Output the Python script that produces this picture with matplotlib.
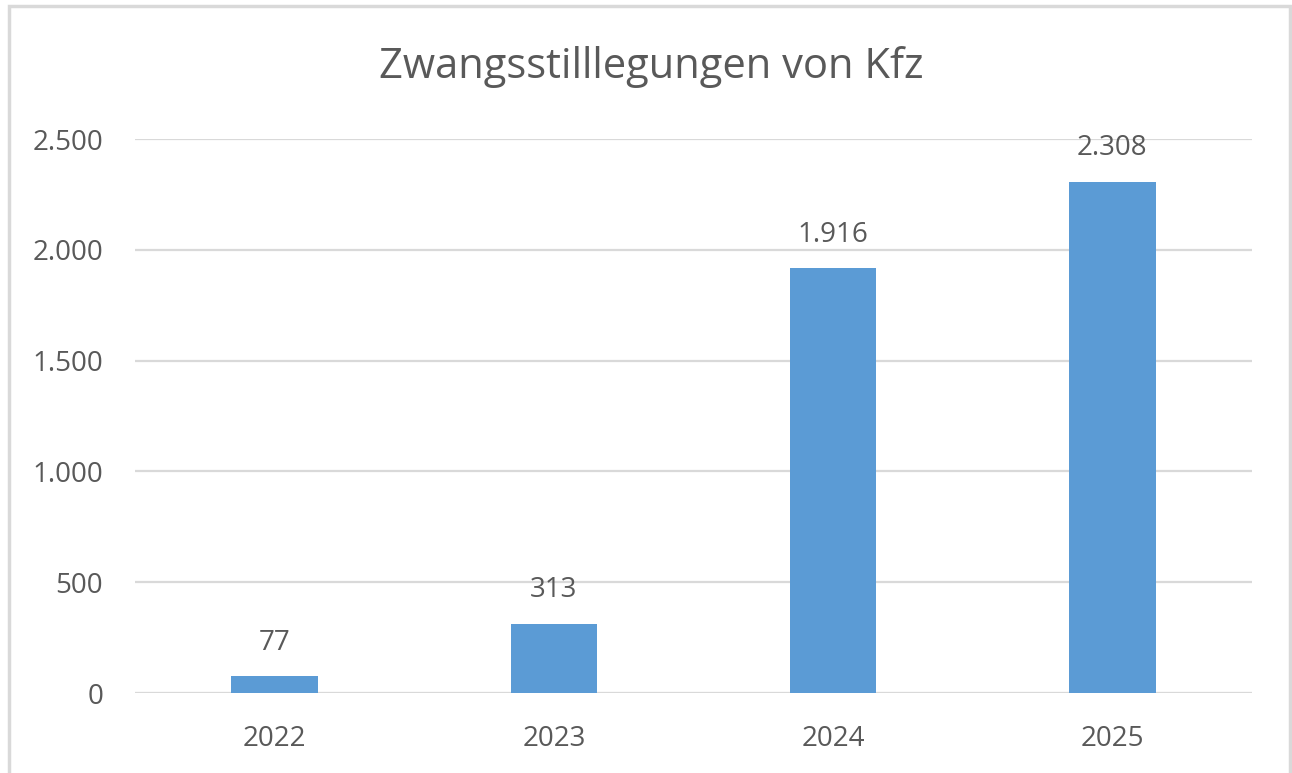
import matplotlib.pyplot as plt
from matplotlib.patches import Rectangle
from matplotlib.ticker import FuncFormatter

years = ['2022', '2023', '2024', '2025']
values = [77, 313, 1916, 2308]
y_ticks = [0, 500, 1000, 1500, 2000, 2500]

text_color = '#595959'
bar_color = '#5B9BD5'
grid_color = '#D9D9D9'

plt.rcParams['font.family'] = ['Open Sans', 'DejaVu Sans']


def de_format(v, pos=None):
    # Tausendertrennzeichen als Punkt
    return f"{int(v):,}".replace(',', '.')


fig = plt.figure(figsize=(12.92, 7.73), dpi=100)
ax = fig.add_axes([135 / 1292, 1 - 693 / 773, (1252 - 135) / 1292, (693 - 139) / 773])

x = range(len(years))
bars = ax.bar(x, values, width=0.31, color=bar_color, zorder=3)

for rect, v in zip(bars, values):
    ax.annotate(de_format(v), (rect.get_x() + rect.get_width() / 2, v),
                xytext=(0, 24), textcoords='offset points', ha='center', va='center',
                fontsize=20, color=text_color)

ax.set_xlim(-0.5, 3.5)
ax.set_ylim(0, 2500)
ax.set_xticks(list(x))
ax.set_xticklabels(years)
ax.set_yticks(y_ticks)
ax.yaxis.set_major_formatter(FuncFormatter(de_format))
ax.tick_params(axis='both', length=0, labelsize=20, labelcolor=text_color)
ax.tick_params(axis='y', pad=23)
ax.tick_params(axis='x', pad=23)
ax.grid(axis='y', color=grid_color, linewidth=1.6, zorder=0)
for s in ax.spines.values():
    s.set_visible(False)
ax.axhline(0, color=grid_color, linewidth=2.2, zorder=2)

fig.text(651 / 1292, 1 - 67 / 773, 'Zwangsstilllegungen von Kfz', ha='center', va='center',
         fontsize=30, color=text_color)

# Rahmen um das Diagramm
fig.patches.append(Rectangle((9 / 1292, -0.01), (1290 - 9) / 1292, 1 - 6 / 773 + 0.01,
                             transform=fig.transFigure, fill=False,
                             edgecolor=grid_color, linewidth=2.5))

fig.savefig('out.png', dpi=100)
